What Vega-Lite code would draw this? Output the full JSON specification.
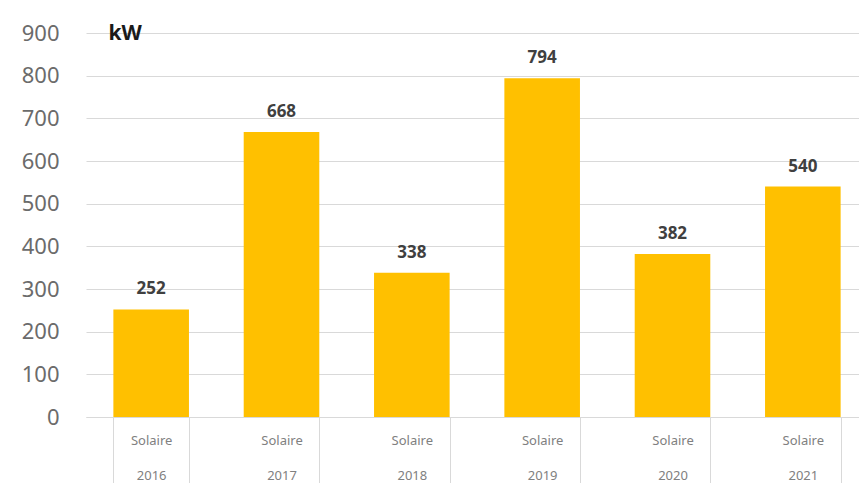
{
  "$schema": "https://vega.github.io/schema/vega-lite/v6.json",
  "autosize": "none",
  "width": 782,
  "height": 384,
  "padding": {"left": 86, "top": 33, "right": 0, "bottom": 66},
  "background": "white",
  "config": {"view": {"stroke": null}, "font": "Noto Sans"},
  "data": {"values": [
    {"annee": "2016", "kw": 252},
    {"annee": "2017", "kw": 668},
    {"annee": "2018", "kw": 338},
    {"annee": "2019", "kw": 794},
    {"annee": "2020", "kw": 382},
    {"annee": "2021", "kw": 540}
  ]},
  "encoding": {
    "x": {
      "field": "annee", "type": "nominal", "sort": null,
      "scale": {"paddingInner": 0.42, "paddingOuter": 0.21},
      "axis": {
        "title": null, "labelAngle": 0,
        "labelExpr": "datum.label ? ['Solaire', datum.label] : ''",
        "labelFontSize": 13, "labelColor": "#808080", "labelLineHeight": 35,
        "labelBaseline": "top", "labelPadding": -49,
        "domainColor": "#d9d9d9", "tickColor": "#d9d9d9", "tickSize": 66,
        "tickBand": "extent"
      }
    },
    "y": {
      "field": "kw", "type": "quantitative",
      "scale": {"domain": [0, 900]},
      "axis": {
        "values": [0, 100, 200, 300, 400, 500, 600, 700, 800, 900],
        "title": "kW", "titleAngle": 0, "titleX": 22, "titleY": 0,
        "titleAlign": "left", "titleBaseline": "middle",
        "titleFontSize": 21, "titleFontWeight": "bold", "titleColor": "#1a1a1a",
        "labelFontSize": 22, "labelColor": "#6b6b6b", "labelPadding": 27,
        "domain": false, "ticks": false,
        "gridColor": "#d9d9d9", "gridWidth": 1.2
      }
    }
  },
  "layer": [
    {"mark": {"type": "bar", "color": "#FFC000"}},
    {"mark": {"type": "text", "dy": -20, "fontSize": 17, "fontWeight": "bold", "color": "#404040"},
     "encoding": {"text": {"field": "kw", "type": "quantitative"}}}
  ]
}
